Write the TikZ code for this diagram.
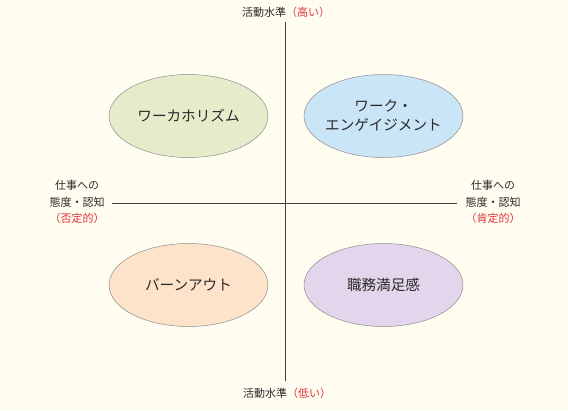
\documentclass[tikz,border=0pt]{standalone}
\usepackage{fontspec}
\setmainfont{Noto Sans CJK JP}
\usetikzlibrary{shapes.geometric}
\definecolor{bg}{HTML}{FFFDF0}
\definecolor{cgreen}{HTML}{E5ECCA}
\definecolor{cblue}{HTML}{C9E5F6}
\definecolor{cpeach}{HTML}{FCE3CA}
\definecolor{cpurple}{HTML}{E3D5EC}
\definecolor{txt}{HTML}{2A2A2A}
\definecolor{hl}{HTML}{E0303A}
\tikzset{
  quad/.style={ellipse, draw=black!45, line width=0.5pt, minimum width=159pt, minimum height=83pt, inner sep=0pt},
  quadtext/.style={align=center, font=\fontsize{14.6}{19}\selectfont, text=txt, inner sep=0pt},
  axislabel/.style={align=center, font=\fontsize{11}{16.5}\selectfont, text=txt, inner sep=0pt},
  axis/.style={draw=black!75, line width=0.8pt}
}
\begin{document}
\begin{tikzpicture}[x=1pt,y=-1pt]
\fill[bg] (0,0) rectangle (568,410);
\useasboundingbox (0,0) rectangle (568,410);
\node[axislabel] (top) at (286,12) {活動水準\textcolor{hl}{（高い）}};
\node[axislabel] (bottom) at (287,393) {活動水準\textcolor{hl}{（低い）}};
\node[axislabel] (left) at (77,202) {仕事への\\態度・認知\\\textcolor{hl}{（否定的）}};
\node[axislabel] (right) at (493,202) {仕事への\\態度・認知\\\textcolor{hl}{（肯定的）}};
\coordinate (vt) at (285,22);
\coordinate (vb) at (285,381);
\coordinate (hl) at (112,203);
\coordinate (hr) at (457,203);
\draw[axis] (vt) -- (vb);
\draw[axis] (hl) -- (hr);
\node[quad, fill=cgreen] (wh) at (188.5,116) {};
\node[quad, fill=cblue] (we) at (383.5,116) {};
\node[quad, fill=cpeach] (bo) at (188.5,285) {};
\node[quad, fill=cpurple] (js) at (383.5,285) {};
\node[quadtext] (whT) at (wh.center) {ワーカホリズム};
\node[quadtext] (weT) at (we.center) {ワーク・\\エンゲイジメント};
\node[quadtext] (boT) at (bo.center) {バーンアウト};
\node[quadtext] (jsT) at (js.center) {職務満足感};
\end{tikzpicture}
\end{document}
